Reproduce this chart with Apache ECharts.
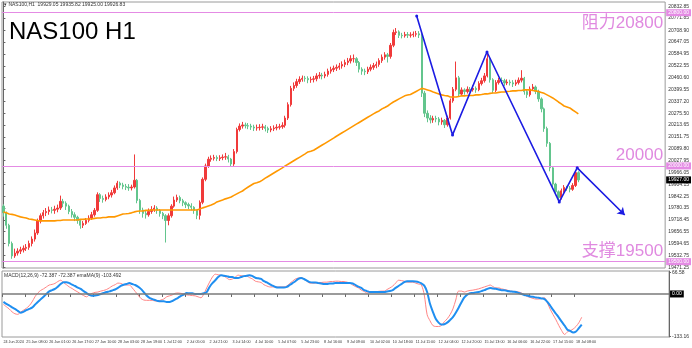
<!DOCTYPE html>
<html><head><meta charset="utf-8">
<script src="https://cdn.jsdelivr.net/npm/echarts@6/dist/echarts.min.js"></script>
<style>html,body{margin:0;padding:0;background:#fff}#c{width:692px;height:348px}</style>
</head><body><div id="c"></div>
<script>
// [open, close, low, high] per 2-hour bar
const ohlc = [
[19790,19755,19735,19800],[19755,19690,19672,19762],[19690,19595,19580,19698],[19595,19530,19515,19605],
[19530,19545,19520,19568],[19545,19555,19532,19570],[19555,19562,19540,19578],[19562,19570,19548,19585],
[19570,19575,19556,19592],[19575,19595,19562,19610],[19595,19618,19580,19632],[19618,19650,19605,19668],
[19650,19712,19640,19725],[19712,19740,19700,19752],[19740,19756,19725,19770],[19756,19762,19738,19780],
[19762,19770,19745,19788],[19770,19768,19752,19786],
[19768,19774,19750,19792],[19774,19780,19758,19798],[19780,19815,19770,19845],[19815,19805,19785,19828],
[19805,19790,19770,19815],[19790,19762,19748,19798],[19762,19745,19730,19775],[19745,19732,19712,19758],
[19732,19715,19698,19740],[19715,19690,19672,19722],[19690,19700,19676,19712],[19700,19716,19692,19728],
[19716,19728,19705,19742],[19728,19745,19718,19760],[19745,19768,19735,19780],[19768,19850,19760,19862],
[19850,19830,19812,19858],[19830,19825,19808,19845],[19825,19838,19815,19852],[19838,19848,19826,19862],
[19848,19860,19835,19875],[19860,19885,19852,19898],[19885,19910,19875,19922],[19910,19900,19884,19918],
[19900,19893,19878,19912],[19893,19889,19874,19906],
[19889,19885,19870,19905],[19885,19890,19872,19902],[19890,19925,19882,20060],[19925,19820,19805,19932],
[19820,19770,19750,19828],[19770,19752,19730,19782],[19752,19745,19725,19768],[19745,19762,19735,19778],
[19762,19772,19750,19790],[19772,19780,19760,19795],[19780,19768,19750,19790],[19768,19752,19735,19775],
[19752,19740,19722,19760],[19740,19715,19600,19748],[19715,19740,19690,19752],[19740,19790,19730,19800],
[19790,19822,19782,19840],[19822,19835,19812,19850],[19835,19818,19805,19845],[19818,19808,19790,19828],
[19808,19798,19780,19815],[19798,19791,19775,19808],
[19791,19784,19768,19805],[19784,19768,19750,19790],[19768,19742,19722,19772],[19742,19810,19720,19820],
[19810,19930,19800,19940],[19930,20000,19920,20012],[20000,20035,19990,20048],[20035,20040,20022,20055],
[20040,20044,20028,20058],[20044,20038,20025,20055],[20038,20043,20026,20056],[20043,20046,20030,20060],
[20046,20048,20032,20068],[20048,20036,20018,20058],[20036,20010,19995,20042],[20010,20075,20000,20088],
[20075,20190,20065,20200],[20190,20208,20180,20222],[20208,20214,20195,20230],[20214,20210,20196,20226],
[20210,20208,20192,20224],[20208,20203,20188,20220],[20203,20198,20182,20215],[20198,20200,20184,20216],
[20200,20202,20185,20218],[20202,20204,20188,20220],[20204,20196,20180,20214],[20196,20188,20172,20205],
[20188,20194,20176,20208],[20194,20198,20182,20212],[20198,20202,20186,20218],[20202,20205,20190,20220],
[20205,20212,20194,20228],[20212,20250,20200,20262],[20250,20320,20240,20332],[20320,20405,20310,20418],
[20405,20420,20392,20436],[20420,20440,20408,20455],[20440,20452,20428,20468],[20452,20458,20440,20472],
[20458,20456,20440,20470],[20456,20450,20432,20468],[20450,20452,20434,20466],
[20452,20455,20436,20470],[20455,20470,20442,20484],[20470,20474,20456,20490],[20474,20470,20452,20486],
[20470,20478,20458,20492],[20478,20495,20466,20508],[20495,20503,20482,20518],[20503,20510,20490,20524],
[20510,20515,20496,20530],[20515,20522,20502,20538],[20522,20530,20508,20546],[20530,20540,20516,20555],
[20540,20548,20526,20564],[20548,20560,20535,20578],[20560,20560,20540,20582],[20560,20540,20522,20568],
[20540,20505,20488,20548],[20505,20495,20476,20515],[20495,20492,20474,20508],[20492,20505,20480,20518],
[20505,20515,20494,20530],[20515,20524,20502,20538],[20524,20530,20510,20545],[20530,20550,20518,20562],
[20550,20568,20538,20582],[20568,20580,20555,20594],[20580,20572,20540,20590],[20572,20630,20560,20642],
[20630,20697,20620,20712],[20697,20700,20684,20720],[20700,20682,20668,20708],[20682,20680,20666,20695],
[20680,20686,20670,20700],[20686,20683,20668,20699],
[20683,20684,20670,20698],[20684,20688,20672,20702],[20688,20690,20675,20705],[20690,20684,20668,20704],
[20684,20380,20360,20692],[20380,20275,20255,20392],[20275,20250,20228,20290],[20250,20240,20222,20265],
[20240,20248,20225,20262],[20248,20245,20228,20262],[20245,20230,20212,20255],[20230,20238,20215,20252],
[20238,20215,20198,20245],[20215,20250,20205,20262],[20250,20340,20242,20352],[20340,20400,20330,20412],
[20400,20460,20390,20545],[20460,20375,20360,20470],[20375,20397,20365,20410],[20397,20388,20372,20405],
[20388,20400,20378,20415],[20400,20398,20385,20412],
[20398,20405,20388,20420],[20405,20398,20382,20415],[20398,20430,20390,20442],[20430,20445,20420,20460],
[20445,20470,20435,20485],[20470,20560,20462,20595],[20560,20450,20435,20570],[20450,20395,20380,20458],
[20395,20435,20385,20448],[20435,20446,20425,20460],[20446,20445,20430,20462],[20445,20433,20418,20455],
[20433,20438,20422,20452],[20438,20434,20420,20450],
[20434,20428,20412,20448],[20428,20435,20418,20450],[20435,20448,20425,20462],[20448,20458,20436,20500],
[20458,20388,20372,20465],[20388,20372,20355,20398],[20372,20402,20362,20415],[20402,20412,20392,20428],
[20412,20390,20375,20420],[20390,20350,20335,20398],[20350,20298,20280,20358],[20298,20195,20178,20305],
[20195,20118,20100,20205],[20118,19990,19972,20125],[19990,19905,19888,19998],[19905,19865,19848,19912],
[19865,19835,19810,19872],[19835,19870,19825,19882],[19870,19888,19860,19900],[19888,19884,19870,19896],
[19884,19878,19862,19895],[19878,19898,19870,19910],[19898,19965,19890,19978],[19965,19927,19915,19972]
];

const movingAvg = [
19760,19755,19749,19747,19744,19739,19734,19731,19728,19723,19721,19718,19715,19713,19713,19713,19713,19713,
19713,19715,19715,19718,19718,19718,19718,19718,19718,19721,19721,19723,19723,19723,19726,19728,19728,19731,19731,19734,19734,19734,19739,19744,19749,19750,
19752,19755,19760,19763,19765,19765,19768,19768,19770,19770,19770,19770,19770,19770,19770,19770,19770,19770,19770,19770,19770,19770,
19770,19770,19770,19775,19781,19786,19791,19796,19802,19812,19817,19822,19828,19833,19838,19846,19854,19862,19869,19880,19890,19899,19908,19912,
19917,19926,19936,19945,19954,19963,19972,19981,19990,20000,20009,20018,20027,20036,20045,20054,20063,20073,20077,
20082,20091,20100,20109,20118,20127,20136,20145,20155,20164,20173,20182,20191,20200,20209,20218,20227,20236,20245,20254,20263,20272,20280,20287,20298,20305,20313,20324,20334,20342,20350,20358,20366,20370,
20373,20381,20389,20397,20405,20402,20397,20392,20386,20381,20376,20371,20368,20366,20360,20360,20360,20363,20366,20366,20368,20368,
20368,20371,20371,20373,20376,20376,20379,20381,20381,20384,20386,20386,20389,20390,
20392,20392,20394,20394,20397,20397,20397,20394,20392,20389,20384,20379,20371,20363,20355,20345,20334,20324,20313,20308,
20303,20292,20282,20272
];

const macdMain = [
-33,-40,-47,-56,-62,-64,-57,-51,-45,-37,-25,-9,3,11,16,22,28,30,
33,39,43,36,29,22,17,11,6,0,-5,-9,-3,2,5,6,9,11,14,19,25,29,34,33,29,28,
28,19,8,-3,-14,-19,-20,-20,-20,-22,-22,-19,-16,-9,-6,-3,2,3,2,0,-3,-4,
-5,-6,-9,-12,0,19,37,53,62,60,59,56,50,45,47,53,59,57,56,56,51,47,40,38,
36,29,25,22,22,22,22,22,22,25,33,40,47,50,51,47,40,34,34,
34,36,36,37,37,39,39,40,40,39,39,37,34,28,23,19,12,8,3,5,6,6,8,9,9,14,19,25,34,43,42,40,37,37,
37,34,31,28,-3,-65,-84,-99,-102,-102,-99,-87,-78,-65,-47,-19,9,9,6,9,11,12,
14,16,19,22,25,28,23,19,19,16,14,12,9,8,
8,6,3,-3,-8,-11,-14,-16,-16,-14,-12,-28,-48,-65,-81,-99,-115,-127,-119,-115,
-110,-102,-90,-73
];

const macdSignal = [
-25,-31,-36,-42,-47,-53,-59,-56,-51,-47,-43,-34,-25,-17,-9,0,8,12,
16,23,31,37,37,34,29,25,20,16,9,3,-3,-6,-5,-3,0,3,6,8,11,14,19,25,29,31,
34,31,28,23,16,6,-5,-12,-16,-19,-22,-23,-23,-25,-25,-22,-17,-12,-6,-2,3,2,
2,0,0,0,2,6,22,34,43,53,59,57,56,53,53,50,50,53,56,57,59,56,51,49,
47,40,36,31,26,22,20,20,20,22,28,34,40,47,50,47,42,37,36,
36,34,33,31,31,33,33,34,34,34,34,34,34,33,28,23,19,12,9,6,6,6,6,6,6,8,9,12,19,25,31,37,40,40,
40,39,37,33,26,6,-31,-56,-78,-90,-96,-95,-90,-82,-73,-59,-43,-26,-11,-2,2,3,
5,6,9,12,16,19,17,16,14,12,12,9,8,7,
6,3,0,-3,-5,-8,-9,-11,-12,-14,-16,-25,-37,-50,-62,-74,-87,-99,-112,-116,
-121,-118,-107,-96
];

const timeLabels = ['24 Jun 2024','25 Jun 08:00','26 Jun 01:00','26 Jun 17:00','27 Jun 10:00','28 Jun 03:00',
'28 Jun 19:00','1 Jul 12:00','2 Jul 05:00','2 Jul 21:00','3 Jul 14:00','4 Jul 10:00','5 Jul 07:00',
'5 Jul 23:00','8 Jul 16:00','9 Jul 09:00','10 Jul 02:00','10 Jul 18:00','11 Jul 11:00','12 Jul 04:00',
'12 Jul 20:00','15 Jul 13:00','16 Jul 06:00','16 Jul 22:00','17 Jul 15:00','18 Jul 08:00'];

const priceTicks = [20832.85,20771.85,20708.90,20647.05,20584.95,20522.55,20460.60,20399.55,20337.20,
20275.50,20213.65,20151.75,20089.80,20027.95,19966.05,19904.15,19842.25,19780.35,19718.45,19656.55,
19594.65,19532.75,19471.25];
const oscTicks = [66.58, -133.16];

const levels = [20800, 20000, 19500];
const levelNotes = ['阻力20800', '20000', '支撑19500'];
const notePositions = ['insideEndBottom', 'insideEndTop', 'insideEndTop'];

// zigzag projection: [bar position, price]
const zigzag = [[145.2,20783],[157.8,20162],[169.9,20595],[195.3,19812],[201.6,19990],[218.3,19744]];

const SLOTS = 233;
const categories = Array.from({length: SLOTS}, (_, i) => String(i));

const FONT = 'Liberation Sans, Arial, sans-serif';
const PINK = '#e48be4';
const CLEAR = 'rgba(0,0,0,0)';
const lastClose = ohlc[ohlc.length - 1][1];

const chart = echarts.init(document.getElementById('c'), null, {renderer: 'canvas'});

const levelMarks = levels.map(v => ({
  yAxis: v,
  lineStyle: {color: PINK, width: 1, type: 'solid'},
  label: {show: true, position: 'end', formatter: v.toFixed(2), backgroundColor: PINK, color: '#fff',
          fontSize: 5, padding: [1, 2], distance: 1, fontFamily: FONT}
}));
levelMarks.push({
  yAxis: lastClose,
  lineStyle: {color: CLEAR, width: 0},
  label: {show: true, position: 'end', formatter: lastClose.toFixed(2), backgroundColor: '#000', color: '#fff',
          fontSize: 5, padding: [1, 2], distance: 1, fontFamily: FONT}
});

const noteMarks = levels.map((v, i) => ({
  yAxis: v,
  lineStyle: {color: CLEAR, width: 0},
  label: {show: true, position: notePositions[i], formatter: levelNotes[i], color: '#e08ae0',
          fontSize: 17, fontFamily: 'Liberation Sans, Noto Sans CJK SC, sans-serif', distance: 2}
}));

const zigData = zigzag.map((p, i) => i === zigzag.length - 1
  ? {value: p, symbol: 'arrow', symbolSize: 7, symbolRotate: -134}
  : {value: p});

const option = {
  animation: false,
  backgroundColor: '#ffffff',
  textStyle: {fontFamily: FONT},
  title: {text: 'NAS100 H1', left: 4, top: 15,
          textStyle: {fontSize: 24, fontWeight: 'normal', color: '#000', fontFamily: FONT}},
  graphic: [
    {type: 'text', left: 4, top: 2, style: {text: '▾ NAS100,H1  19929.05 19935.82 19925.00 19926.83', fontSize: 5, fill: '#333', fontFamily: FONT}},
    {type: 'text', left: 4, top: 273, style: {text: 'MACD(12,26,9) -72.387 -72.387 emaMA(9) -103.492', fontSize: 5, fill: '#333', fontFamily: FONT}}
  ],
  grid: [
    {left: 2, right: 19, top: 2, height: 266, show: true, borderColor: '#9a9a9a', borderWidth: 1},
    {left: 2, right: 19, top: 271, height: 66, show: true, borderColor: '#9a9a9a', borderWidth: 1}
  ],
  xAxis: [
    {type: 'category', gridIndex: 0, data: categories, boundaryGap: true,
     axisLine: {show: false}, axisTick: {show: false}, axisLabel: {show: false}, splitLine: {show: false}},
    {type: 'category', gridIndex: 1, data: categories, boundaryGap: true,
     axisLine: {show: false},
     axisTick: {show: true, interval: (i) => i % 8 === 0 && i / 8 < timeLabels.length, length: 3, lineStyle: {color: '#666'}},
     axisLabel: {show: true, showMinLabel: true, hideOverlap: false,
                 interval: (i) => i % 8 === 0 && i / 8 < timeLabels.length,
                 formatter: (v, i) => timeLabels[i / 8] || '', fontSize: 3.7, color: '#333', align: 'left', margin: 3},
     splitLine: {show: false}},
    {type: 'value', gridIndex: 0, min: -0.5, max: SLOTS - 0.5, show: false}
  ],
  yAxis: [
    {type: 'value', gridIndex: 0, position: 'right', min: 19467, max: 20856,
     axisLine: {show: true, lineStyle: {color: '#666'}},
     axisTick: {show: true, length: 2, customValues: priceTicks, lineStyle: {color: '#666'}},
     axisLabel: {show: true, customValues: priceTicks, formatter: v => v.toFixed(2), fontSize: 5, color: '#333', margin: 3},
     splitLine: {show: false}},
    {type: 'value', gridIndex: 1, position: 'right', min: -135, max: 72,
     axisLine: {show: true, lineStyle: {color: '#666'}},
     axisTick: {show: true, length: 2, customValues: oscTicks, lineStyle: {color: '#666'}},
     axisLabel: {show: true, customValues: oscTicks, formatter: v => String(v), fontSize: 5, color: '#333', margin: 3},
     splitLine: {show: false}}
  ],
  series: [
    {name: 'NAS100', type: 'candlestick', xAxisIndex: 0, yAxisIndex: 0, data: ohlc, barWidth: '65%',
     itemStyle: {color: '#f03a3a', color0: '#63c58d', borderColor: '#f03a3a', borderColor0: '#63c58d', borderWidth: 1},
     markLine: {silent: true, symbol: 'none', animation: false, data: levelMarks}},
    {name: 'MA', type: 'line', xAxisIndex: 0, yAxisIndex: 0, data: movingAvg, symbol: 'none', z: 3,
     lineStyle: {color: '#ff9800', width: 1.6},
     markLine: {silent: true, symbol: 'none', animation: false, data: noteMarks}},
    {name: 'zigzag', type: 'line', xAxisIndex: 2, yAxisIndex: 0, data: zigData, symbol: 'circle', symbolSize: 3,
     z: 6, lineStyle: {color: '#1c1ce3', width: 1.6}, itemStyle: {color: '#1c1ce3'}},
    {name: 'MACD', type: 'line', xAxisIndex: 1, yAxisIndex: 1, data: macdMain, symbol: 'none', smooth: 0.3,
     lineStyle: {color: '#ff8585', width: 1}},
    {name: 'Signal', type: 'line', xAxisIndex: 1, yAxisIndex: 1, data: macdSignal, symbol: 'none', smooth: 0.3, z: 4,
     lineStyle: {color: '#1f8ef0', width: 2},
     markLine: {silent: true, symbol: 'none', animation: false,
       data: [{yAxis: 0, lineStyle: {color: '#7a7a7a', width: 1.5, type: 'solid'},
               label: {show: true, position: 'end', formatter: '0.00', backgroundColor: '#000', color: '#fff', fontSize: 5, padding: [1, 2], distance: 1}}]}}
  ]
};
chart.setOption(option);
</script>
</body></html>
